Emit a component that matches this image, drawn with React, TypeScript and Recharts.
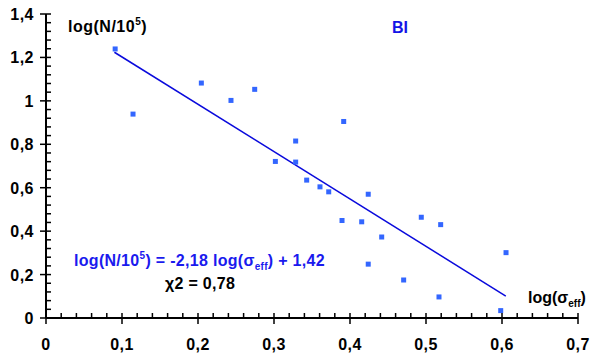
import React from "react";
import { ScatterChart, Scatter, XAxis, YAxis, Customized } from "recharts";

const pointsX = [0.091, 0.1145, 0.2044, 0.2434, 0.2746, 0.3018, 0.3285, 0.3285, 0.343, 0.3605, 0.372, 0.3917, 0.3895, 0.4154, 0.424, 0.4417, 0.424, 0.4706, 0.4938, 0.5193, 0.5171, 0.5983, 0.6053];
const pointsY = [1.239, 0.939, 1.082, 1.002, 1.053, 0.721, 0.815, 0.718, 0.635, 0.604, 0.581, 0.905, 0.449, 0.443, 0.570, 0.373, 0.248, 0.175, 0.464, 0.430, 0.097, 0.034, 0.301];

const fitSlope = -2.18;
const fitIntercept = 1.42;
const fitX = [0.09, 0.605];

const xTickValues = Array.from({ length: 36 }, (_, i) => i * 0.02);
const yTickValues = Array.from({ length: 36 }, (_, i) => i * 0.04);
const xTickLabels = ["0", "0,1", "0,2", "0,3", "0,4", "0,5", "0,6", "0,7"];
const yTickLabels = ["0", "0,2", "0,4", "0,6", "0,8", "1", "1,2", "1,4"];

const points = pointsX.map((x, i) => ({ x, y: pointsY[i] }));
const fitData = fitX.map((x) => ({ x, y: fitSlope * x + fitIntercept }));

const FONT = "'Liberation Sans', Arial, sans-serif";
const FS = 16;

const XTick = (props: any) => {
  const { x, y, index } = props;
  const major = index % 5 === 0;
  return (
    <g>
      <line x1={x} x2={x} y1={y - 5} y2={major ? y + 6 : y} stroke="#000" strokeWidth={1.5} />
      {major && (
        <text x={x} y={y + 32} textAnchor="middle" fontFamily={FONT} fontWeight="bold" fontSize={FS} letterSpacing={0.5} fill="#000">
          {xTickLabels[index / 5]}
        </text>
      )}
    </g>
  );
};

const YTick = (props: any) => {
  const { x, y, index } = props;
  const major = index % 5 === 0;
  return (
    <g>
      <line x1={major ? x - 6 : x} x2={x + 5} y1={y} y2={y} stroke="#000" strokeWidth={1.5} />
      {major && (
        <text x={x - 12} y={y + 6} textAnchor="end" fontFamily={FONT} fontWeight="bold" fontSize={FS} letterSpacing={0.5} fill="#000">
          {yTickLabels[index / 5]}
        </text>
      )}
    </g>
  );
};

const Square = (props: any) => {
  const { cx, cy } = props;
  return <rect x={cx - 2.5} y={cy - 2.5} width={5} height={5} fill="#3366ff" />;
};

const Nothing = () => <g />;

const Texts = () => (
  <g fontFamily={FONT} fontWeight="bold">
    <text x={68} y={32} fontSize={16} letterSpacing={0.5} fill="#000">
      <tspan>log(N/10</tspan>
      <tspan dy={-7} fontSize={10}>5</tspan>
      <tspan dy={7}>)</tspan>
    </text>
    <text x={392} y={33} fontSize={16} fill="#1414e6">BI</text>
    <text x={74} y={266} fontSize={16} letterSpacing={0.3} fill="#1a1aee">
      <tspan>log(N/10</tspan>
      <tspan dy={-7} fontSize={10}>5</tspan>
      <tspan dy={7}>) = -2,18 log(σ</tspan>
      <tspan dy={4} fontSize={10}>eff</tspan>
      <tspan dy={-4}>) + 1,42</tspan>
    </text>
    <text x={165} y={289} fontSize={16} letterSpacing={0.3} fill="#000">χ2 = 0,78</text>
    <text x={528} y={303} fontSize={16} fill="#000">
      <tspan>log(σ</tspan>
      <tspan dy={4} fontSize={10}>eff</tspan>
      <tspan dy={-4}>)</tspan>
    </text>
  </g>
);

export default function App() {
  return (
    <div style={{ width: 590, height: 358, background: "#fff" }}>
      <style>{`body{margin:0}`}</style>
      <ScatterChart width={590} height={358} margin={{ top: 14, right: 12, bottom: 0, left: 0 }}>
        <XAxis
          type="number"
          dataKey="x"
          domain={[0, 0.7]}
          ticks={xTickValues}
          interval={0}
          tickLine={false}
          tickSize={0}
          tickMargin={0}
          tick={<XTick />}
          axisLine={{ stroke: "#000", strokeWidth: 2 }}
          height={40}
          allowDataOverflow
        />
        <YAxis
          type="number"
          dataKey="y"
          domain={[0, 1.4]}
          ticks={yTickValues}
          interval={0}
          tickLine={false}
          tickSize={0}
          tickMargin={0}
          tick={<YTick />}
          axisLine={{ stroke: "#000", strokeWidth: 2 }}
          width={46}
          allowDataOverflow
        />
        <Scatter data={fitData} line={{ stroke: "#0a0adc", strokeWidth: 1.5 }} shape={<Nothing />} isAnimationActive={false} />
        <Scatter data={points} shape={<Square />} isAnimationActive={false} />
        <Customized component={Texts} />
      </ScatterChart>
    </div>
  );
}
